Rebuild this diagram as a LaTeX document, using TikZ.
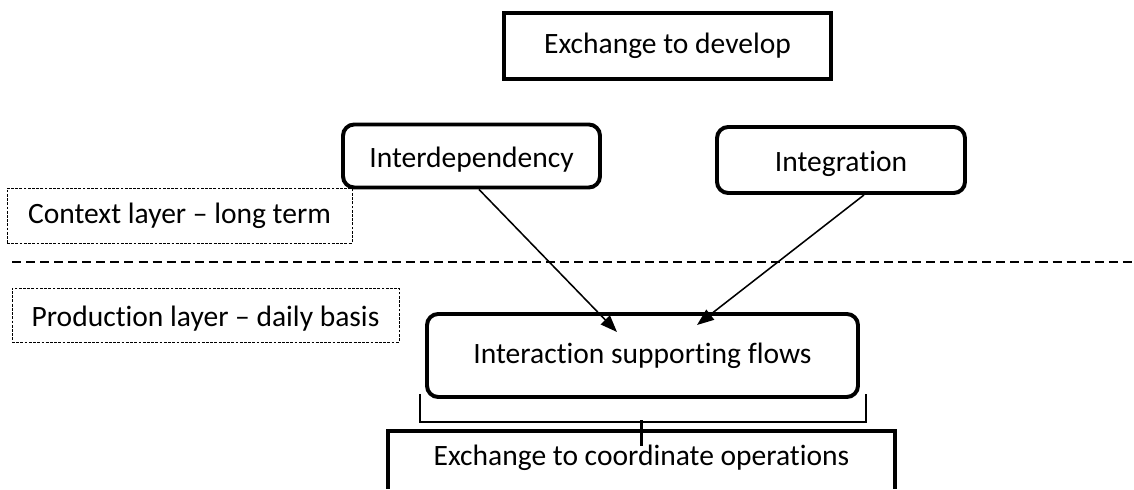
\documentclass[tikz,border=0pt]{standalone}
\usepackage{fontspec}
\setmainfont{Carlito}[Ligatures={TeX,NoCommon}]
\usepackage{tikz}
\usetikzlibrary{arrows.meta,calc}
\newcommand{\px}{0.025cm}
\newcommand{\textsizebox}{\fontsize{21}{25}\selectfont}
\tikzset{
    common/.style={draw, rectangle, inner sep=0pt, font=\textsizebox},
    block/.style={common, line width=2.8pt},
    roundblock/.style={block, rounded corners=0.28cm},
    layer/.style={common, line width=0.6pt, dash pattern=on 2pt off 1pt},
    low/.style={text height=16pt, text depth=0pt},
    flow/.style={line width=1.1pt, -{Triangle[length=12pt,width=9pt]}},
    divider/.style={line width=1.9pt, dash pattern=on 6.4pt off 3.6pt},
    bracketline/.style={line width=0.8pt},
    bracketstem/.style={line width=1.5pt}
}

\begin{document}
\begin{tikzpicture}[x=\px, y=-\px]
        \useasboundingbox (0,0) rectangle (1134,490);
        \clip (0,0) rectangle (1134,489);

        % upper part
        \node[block, minimum width=327*\px, minimum height=66*\px] (develop) at (667.5,46) {Exchange to develop};
        \node[roundblock, low, minimum width=257*\px, minimum height=63*\px] (interdep) at (471.5,156) {Interdependency};
        \node[roundblock, low, minimum width=248*\px, minimum height=66*\px] (integ) at (841,160) {Integration};

        % layers
        \node[layer, minimum width=345*\px, minimum height=55*\px] (context) at (179.5,215.5) {Context layer -- long term};
        \node[layer, low, minimum width=387*\px, minimum height=54*\px] (production) at (205.5,315) {Production layer -- daily basis};
        \coordinate (divL) at (12,262);
        \coordinate (divR) at (1134,262);
        \draw[divider] (divL) -- (divR);

        % lower part
        \node[roundblock, minimum width=431*\px, minimum height=83*\px] (flows) at (642.5,355.5) {Interaction supporting flows};
        \node[block, minimum width=507*\px, minimum height=66*\px, text depth=13pt] (coord) at (641.5,464) {Exchange to coordinate operations};

        \coordinate (tipA) at (617,332);
        \coordinate (tipB) at (697,325);
        \draw[flow] ($(interdep.south)+(7.5,0)$) -- (tipA);
        \draw[flow] ($(integ.south)+(23,0)$) -- (tipB);

        \coordinate (bl) at (420,394);
        \coordinate (br) at (866,394);
        \draw[bracketline] (bl) -- ++(0,28) -| (br);
        \draw[bracketstem] ($(coord.north)+(0,-9)$) -- ++(0,26);
\end{tikzpicture}
\end{document}
